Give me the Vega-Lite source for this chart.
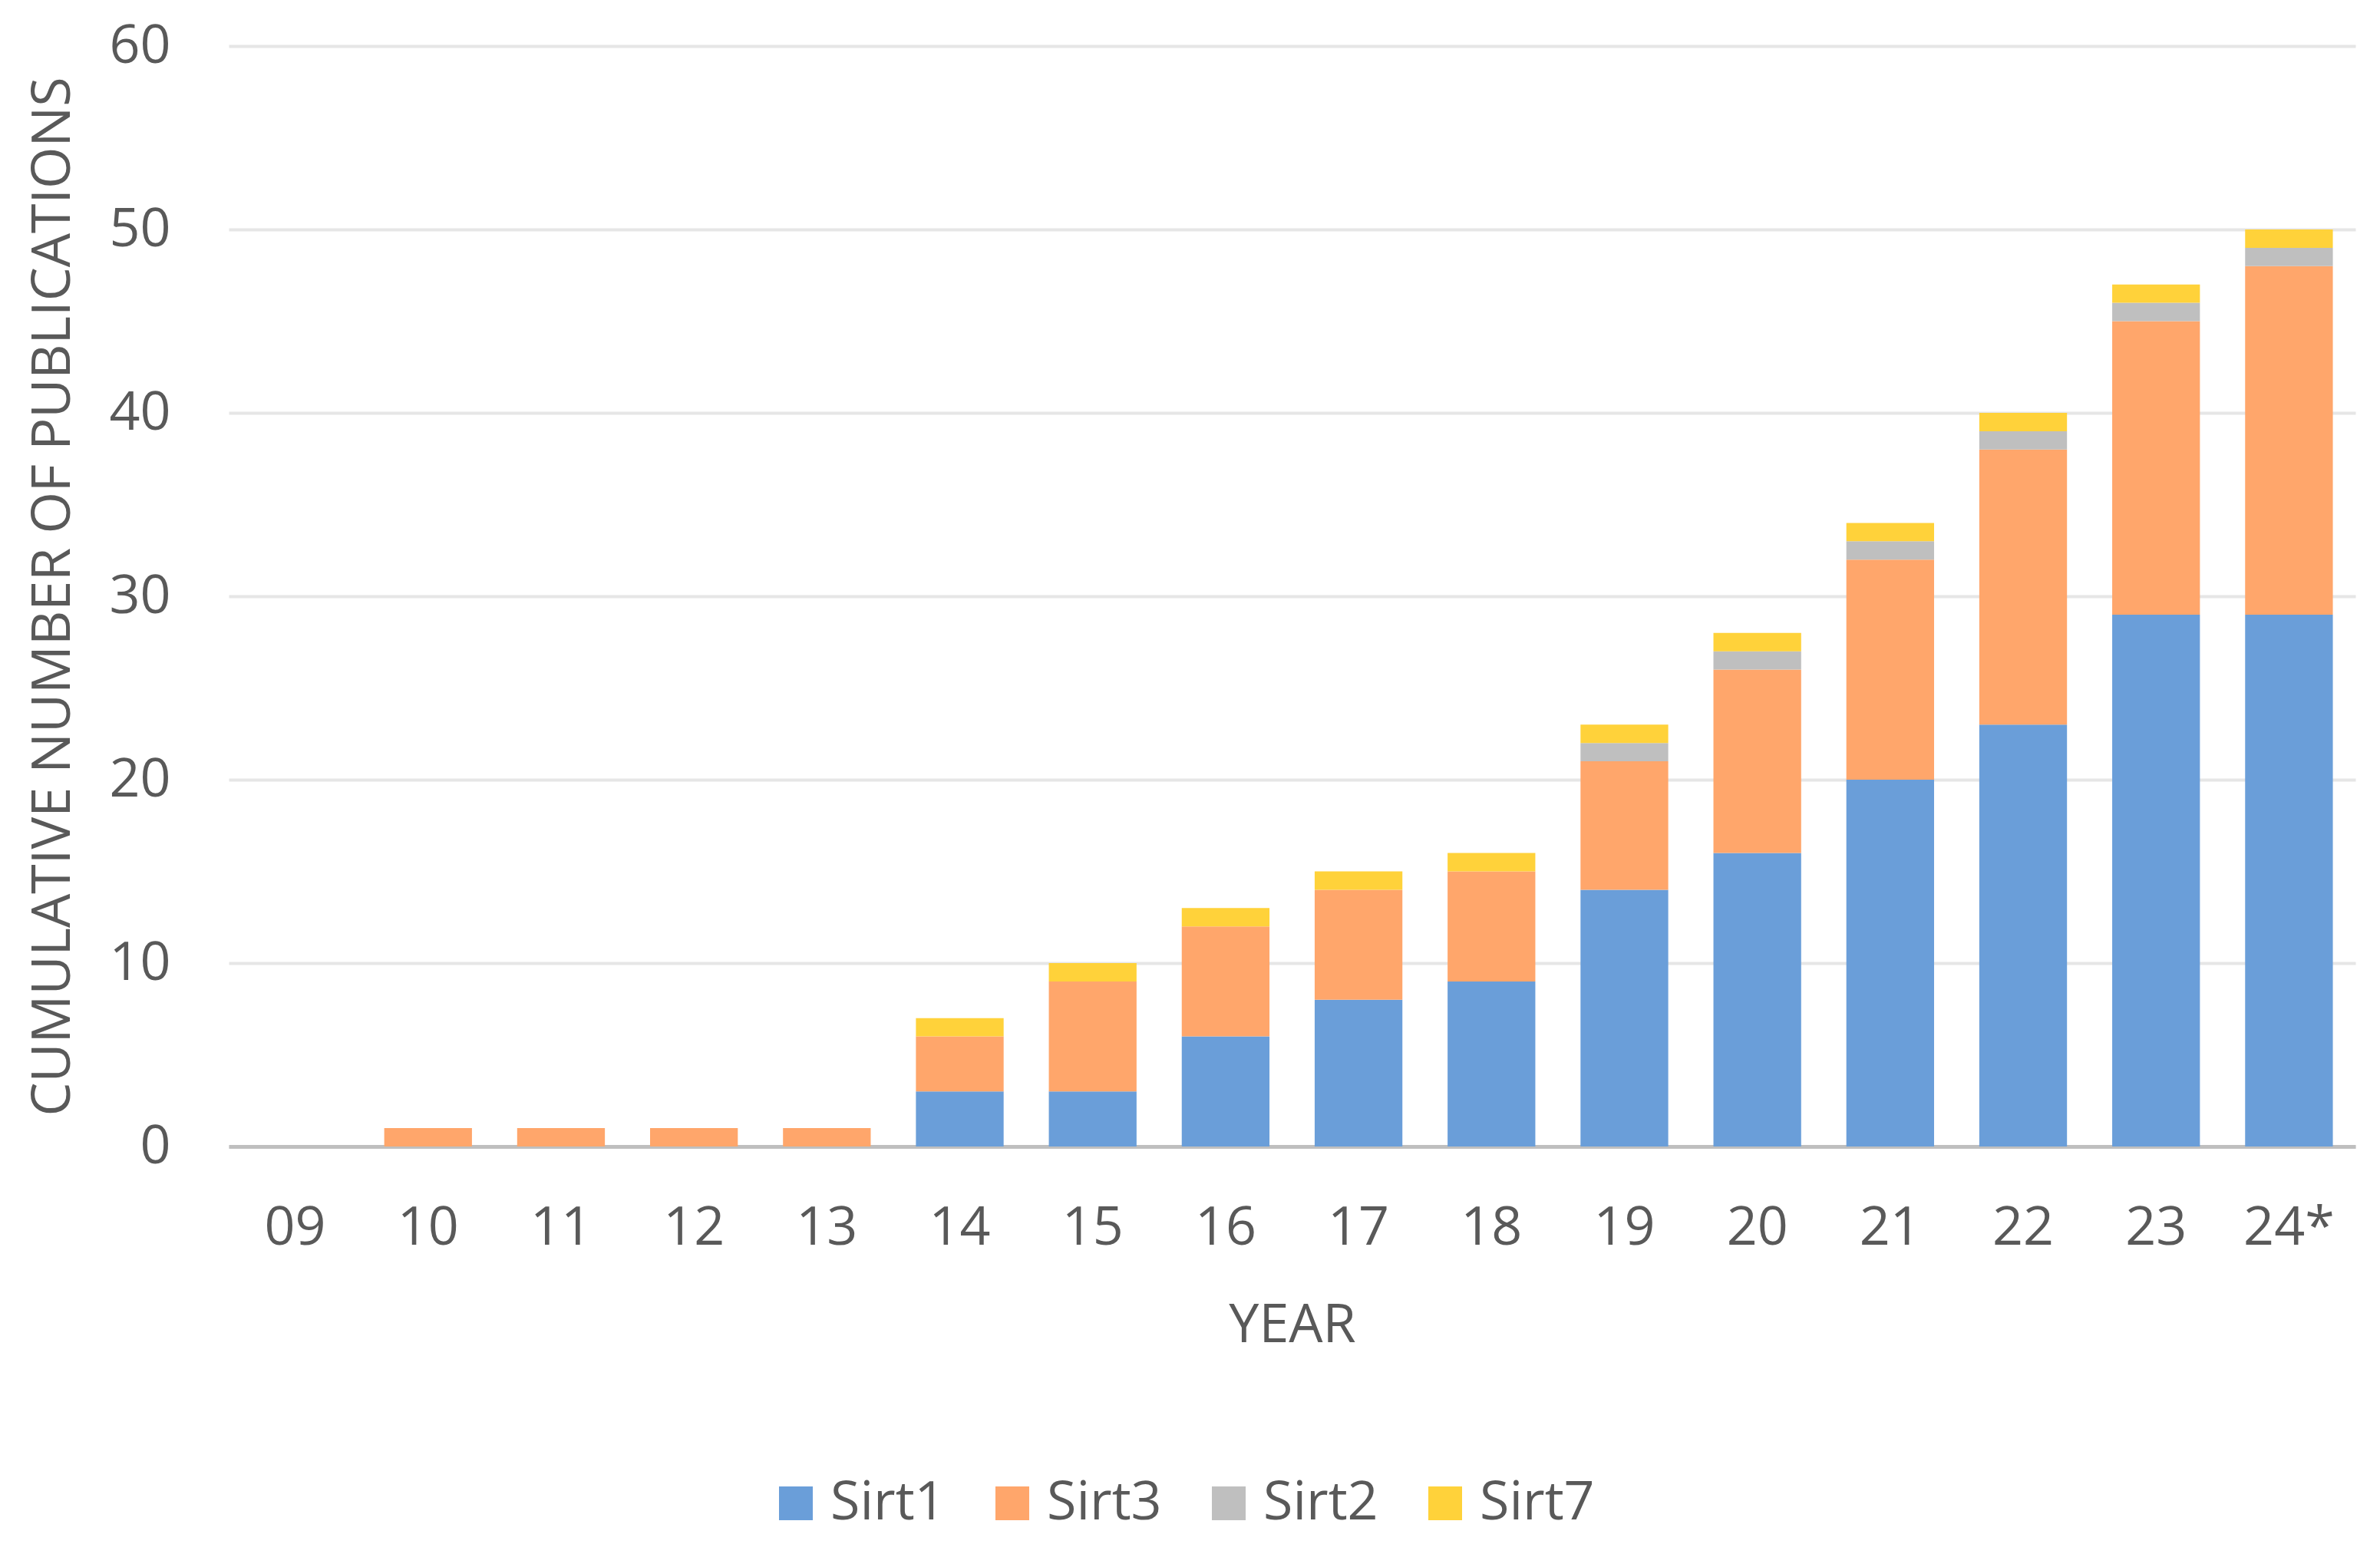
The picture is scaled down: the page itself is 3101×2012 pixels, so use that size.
{
  "$schema": "https://vega.github.io/schema/vega-lite/v6.json",
  "autosize": {"type": "none"},
  "width": 2771,
  "height": 1434,
  "padding": {"left": 298, "top": 60, "right": 32, "bottom": 518},
  "background": "white",
  "data": {
    "values": [
      {"year": "09", "gene": "Sirt1", "n": 0}, {"year": "09", "gene": "Sirt3", "n": 0}, {"year": "09", "gene": "Sirt2", "n": 0}, {"year": "09", "gene": "Sirt7", "n": 0},
      {"year": "10", "gene": "Sirt1", "n": 0}, {"year": "10", "gene": "Sirt3", "n": 1}, {"year": "10", "gene": "Sirt2", "n": 0}, {"year": "10", "gene": "Sirt7", "n": 0},
      {"year": "11", "gene": "Sirt1", "n": 0}, {"year": "11", "gene": "Sirt3", "n": 1}, {"year": "11", "gene": "Sirt2", "n": 0}, {"year": "11", "gene": "Sirt7", "n": 0},
      {"year": "12", "gene": "Sirt1", "n": 0}, {"year": "12", "gene": "Sirt3", "n": 1}, {"year": "12", "gene": "Sirt2", "n": 0}, {"year": "12", "gene": "Sirt7", "n": 0},
      {"year": "13", "gene": "Sirt1", "n": 0}, {"year": "13", "gene": "Sirt3", "n": 1}, {"year": "13", "gene": "Sirt2", "n": 0}, {"year": "13", "gene": "Sirt7", "n": 0},
      {"year": "14", "gene": "Sirt1", "n": 3}, {"year": "14", "gene": "Sirt3", "n": 3}, {"year": "14", "gene": "Sirt2", "n": 0}, {"year": "14", "gene": "Sirt7", "n": 1},
      {"year": "15", "gene": "Sirt1", "n": 3}, {"year": "15", "gene": "Sirt3", "n": 6}, {"year": "15", "gene": "Sirt2", "n": 0}, {"year": "15", "gene": "Sirt7", "n": 1},
      {"year": "16", "gene": "Sirt1", "n": 6}, {"year": "16", "gene": "Sirt3", "n": 6}, {"year": "16", "gene": "Sirt2", "n": 0}, {"year": "16", "gene": "Sirt7", "n": 1},
      {"year": "17", "gene": "Sirt1", "n": 8}, {"year": "17", "gene": "Sirt3", "n": 6}, {"year": "17", "gene": "Sirt2", "n": 0}, {"year": "17", "gene": "Sirt7", "n": 1},
      {"year": "18", "gene": "Sirt1", "n": 9}, {"year": "18", "gene": "Sirt3", "n": 6}, {"year": "18", "gene": "Sirt2", "n": 0}, {"year": "18", "gene": "Sirt7", "n": 1},
      {"year": "19", "gene": "Sirt1", "n": 14}, {"year": "19", "gene": "Sirt3", "n": 7}, {"year": "19", "gene": "Sirt2", "n": 1}, {"year": "19", "gene": "Sirt7", "n": 1},
      {"year": "20", "gene": "Sirt1", "n": 16}, {"year": "20", "gene": "Sirt3", "n": 10}, {"year": "20", "gene": "Sirt2", "n": 1}, {"year": "20", "gene": "Sirt7", "n": 1},
      {"year": "21", "gene": "Sirt1", "n": 20}, {"year": "21", "gene": "Sirt3", "n": 12}, {"year": "21", "gene": "Sirt2", "n": 1}, {"year": "21", "gene": "Sirt7", "n": 1},
      {"year": "22", "gene": "Sirt1", "n": 23}, {"year": "22", "gene": "Sirt3", "n": 15}, {"year": "22", "gene": "Sirt2", "n": 1}, {"year": "22", "gene": "Sirt7", "n": 1},
      {"year": "23", "gene": "Sirt1", "n": 29}, {"year": "23", "gene": "Sirt3", "n": 16}, {"year": "23", "gene": "Sirt2", "n": 1}, {"year": "23", "gene": "Sirt7", "n": 1},
      {"year": "24*", "gene": "Sirt1", "n": 29}, {"year": "24*", "gene": "Sirt3", "n": 19}, {"year": "24*", "gene": "Sirt2", "n": 1}, {"year": "24*", "gene": "Sirt7", "n": 1}
    ]
  },
  "transform": [
    {"calculate": "indexof(['Sirt1','Sirt3','Sirt2','Sirt7'], datum.gene)", "as": "stackOrder"}
  ],
  "mark": {"type": "bar"},
  "encoding": {
    "x": {
      "field": "year",
      "type": "nominal",
      "sort": null,
      "title": "YEAR",
      "scale": {"paddingInner": 0.34, "paddingOuter": 0.17},
      "axis": {
        "labelAngle": 0,
        "labelPadding": 72,
        "ticks": false,
        "domainColor": "#bfbfbf",
        "domainWidth": 5,
        "titlePadding": 58
      }
    },
    "y": {
      "field": "n",
      "type": "quantitative",
      "aggregate": "sum",
      "stack": "zero",
      "title": "CUMULATIVE NUMBER OF PUBLICATIONS",
      "scale": {"domain": [0, 60]},
      "axis": {
        "values": [0, 10, 20, 30, 40, 50, 60],
        "domain": false,
        "ticks": false,
        "labelPadding": 76,
        "gridColor": "#e6e6e6",
        "gridWidth": 4,
        "titlePadding": 36
      }
    },
    "color": {
      "field": "gene",
      "type": "nominal",
      "title": null,
      "sort": ["Sirt1", "Sirt3", "Sirt2", "Sirt7"],
      "scale": {
        "domain": ["Sirt1", "Sirt3", "Sirt2", "Sirt7"],
        "range": ["#6a9ed9", "#ffa66b", "#bfbfbf", "#ffd23a"]
      },
      "legend": {
        "orient": "none",
        "direction": "horizontal",
        "legendX": 704,
        "legendY": 1864,
        "symbolType": "square",
        "symbolSize": 1936,
        "symbolStrokeWidth": 0,
        "symbolOpacity": 1,
        "labelFontSize": 70,
        "labelColor": "#595959",
        "labelFont": "Open Sans",
        "symbolOffset": 0,
        "labelOffset": 10,
        "columnPadding": 52
      }
    },
    "order": {"field": "stackOrder", "type": "quantitative"}
  },
  "config": {
    "view": {"stroke": null},
    "axis": {
      "labelFont": "Open Sans",
      "labelFontSize": 70,
      "labelColor": "#595959",
      "titleFont": "Open Sans",
      "titleFontSize": 70,
      "titleFontWeight": "normal",
      "titleColor": "#595959"
    }
  }
}
